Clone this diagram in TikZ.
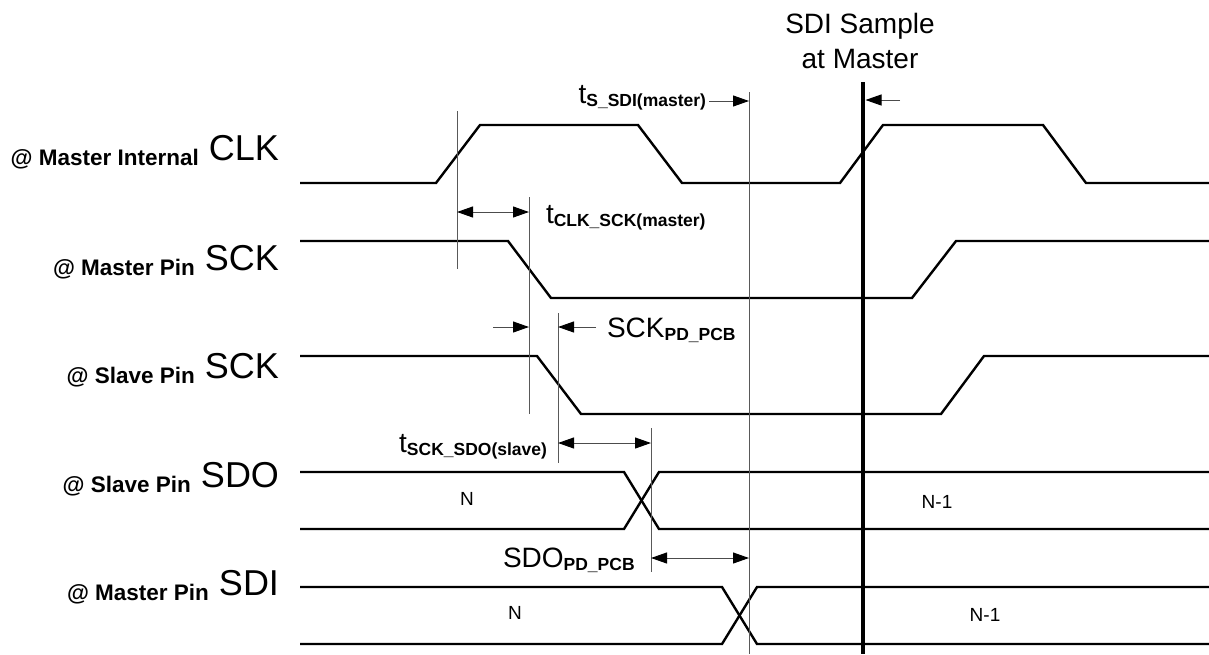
\documentclass[tikz,border=0pt]{standalone}
\usepackage{fontspec}
\setmainfont{Liberation Sans}
\usetikzlibrary{arrows.meta}
\newcommand\dimlbl[2]{{\fontsize{28}{28}\selectfont #1}\raisebox{-3pt}{\fontsize{17.5}{17.5}\selectfont\bfseries #2}}
\tikzset{
  wave/.style={line width=2.4pt, black, line join=miter},
  guide/.style={line width=1pt, black!65},
  sample/.style={line width=4.5pt, black},
  dim/.style={line width=1pt, black!70, arrows={-Triangle[length=16pt,width=11pt,black]}},
  ddim/.style={line width=1pt, black!70, arrows={Triangle[length=16pt,width=11pt,black]-Triangle[length=16pt,width=11pt,black]}},
  txt/.style={inner sep=0pt, outer sep=0pt},
  biglbl/.style={txt, font=\fontsize{36}{36}\selectfont, anchor=base east},
  smalllbl/.style={txt, font=\fontsize{22.5}{22.5}\selectfont\bfseries, anchor=base east},
  datalbl/.style={txt, font=\fontsize{19}{19}\selectfont}
}
\begin{document}
\begin{tikzpicture}[x=1pt,y=-1pt]
\useasboundingbox (0,0) rectangle (1209,654);

% signal names
\node[biglbl] (clkB) at (279,160) {CLK};
\node[smalllbl, yshift=-5pt] (clkS) at ([xshift=-10pt]clkB.base west) {@ Master Internal};
\node[biglbl] (msckB) at (279,270) {SCK};
\node[smalllbl, yshift=-5pt] (msckS) at ([xshift=-10pt]msckB.base west) {@ Master Pin};
\node[biglbl] (ssckB) at (279,378) {SCK};
\node[smalllbl, yshift=-5pt] (ssckS) at ([xshift=-10pt]ssckB.base west) {@ Slave Pin};
\node[biglbl] (sdoB) at (279,487) {SDO};
\node[smalllbl, yshift=-5pt] (sdoS) at ([xshift=-10pt]sdoB.base west) {@ Slave Pin};
\node[biglbl] (sdiB) at (279,595) {SDI};
\node[smalllbl, yshift=-5pt] (sdiS) at ([xshift=-10pt]sdiB.base west) {@ Master Pin};

% waveforms
\draw[wave] (300,183) -- (436,183) -- (480,125) -- (638,125) -- (682,183) -- (840,183) -- (883,125) -- (1043,125) -- (1086,183) -- (1209,183);
\draw[wave] (300,241) -- (508,241) -- (551,298) -- (912,298) -- (956,241) -- (1209,241);
\draw[wave] (300,356) -- (537,356) -- (581,414) -- (941,414) -- (984,356) -- (1209,356);
\draw[wave] (300,472) -- (624,472) -- (659,529) -- (1209,529);
\draw[wave] (300,529) -- (624,529) -- (659,472) -- (1209,472);
\draw[wave] (300,587) -- (722,587) -- (757,644) -- (1209,644);
\draw[wave] (300,644) -- (722,644) -- (757,587) -- (1209,587);

% data labels
\node[datalbl] (n1) at (467,499) {N};
\node[datalbl] (n1b) at (937,502) {N-1};
\node[datalbl] (n2) at (515,613) {N};
\node[datalbl] (n2b) at (985,615) {N-1};

% guide lines
\coordinate (v1t) at (457,111); \coordinate (v1b) at (457,269);
\coordinate (v2t) at (529,197); \coordinate (v2b) at (529,414);
\coordinate (v3t) at (558,313); \coordinate (v3b) at (558,463);
\coordinate (v4t) at (651,428); \coordinate (v4b) at (651,572);
\coordinate (v5t) at (749,92);  \coordinate (v5b) at (749,654);
\coordinate (smt) at (863,82);  \coordinate (smb) at (863,654);
\draw[guide] (v1t) -- (v1b);
\draw[guide] (v2t) -- (v2b);
\draw[guide] (v3t) -- (v3b);
\draw[guide] (v4t) -- (v4b);
\draw[guide] (v5t) -- (v5b);
\draw[sample] (smt) -- (smb);

% sample label
\node[txt, font=\fontsize{28}{35}\selectfont, align=center, anchor=base] (samp) at (860,68) {SDI Sample\\at Master};

% timing dimensions
\coordinate (a1) at (457,212); \coordinate (a2) at (529,212);
\draw[ddim] (a1) -- (a2);
\node[txt, anchor=base west] (tclk) at (546,223) {\dimlbl{t}{CLK\_SCK(master)}};

\coordinate (b1) at (493,327); \coordinate (b2) at (529,327);
\coordinate (b3) at (596,327); \coordinate (b4) at (558,327);
\draw[dim] (b1) -- (b2);
\draw[dim] (b3) -- (b4);
\node[txt, anchor=base west] (sckpd) at (607,337) {\dimlbl{SCK}{PD\_PCB}};

\coordinate (c1) at (558,443); \coordinate (c2) at (651,443);
\draw[ddim] (c1) -- (c2);
\node[txt, anchor=base east] (tsck) at (547,452) {\dimlbl{t}{SCK\_SDO(slave)}};

\coordinate (d1) at (651,558); \coordinate (d2) at (749,558);
\draw[ddim] (d1) -- (d2);
\node[txt, anchor=base west] (sdopd) at (503,567) {\dimlbl{SDO}{PD\_PCB}};

\coordinate (e1) at (709,101); \coordinate (e2) at (749,101);
\draw[dim] (e1) -- (e2);
\node[txt, anchor=base east] (tssdi) at (706,103) {\dimlbl{t}{S\_SDI(master)}};

\coordinate (f1) at (900,100); \coordinate (f2) at (865.5,100);
\draw[dim] (f1) -- (f2);
\end{tikzpicture}
\end{document}
